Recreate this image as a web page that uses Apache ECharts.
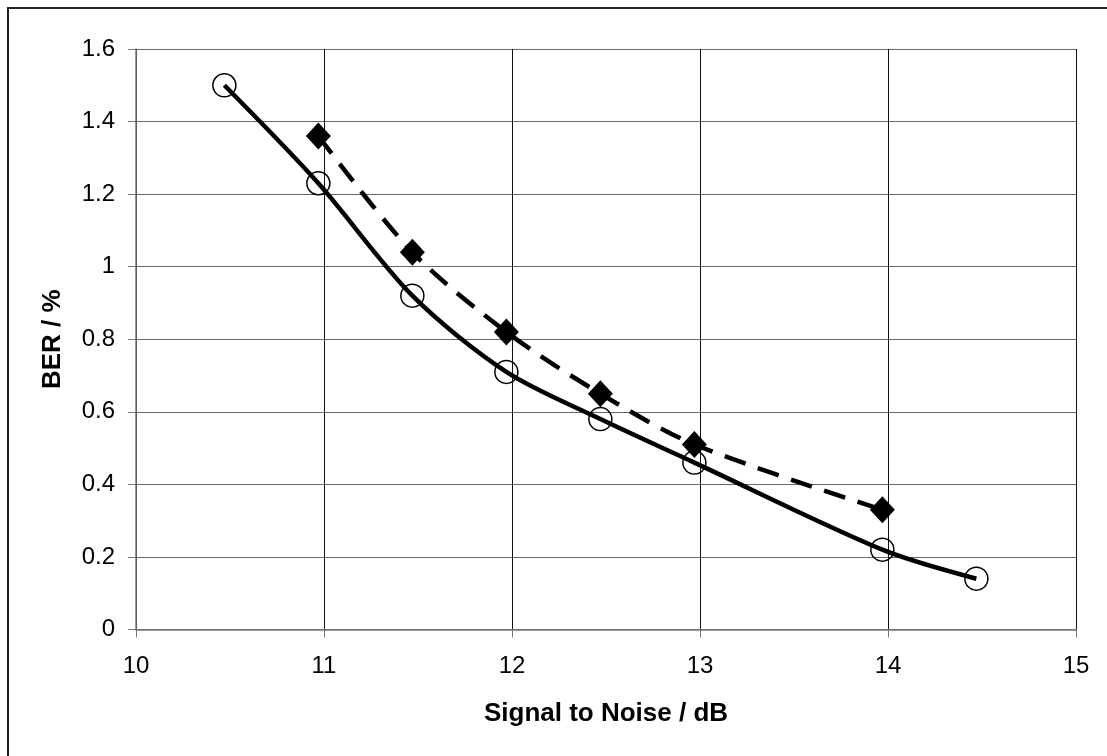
<!DOCTYPE html>
<html>
<head>
<meta charset="utf-8">
<script src="https://cdn.jsdelivr.net/npm/echarts@6/dist/echarts.min.js"></script>
<style>
  html, body { margin: 0; padding: 0; background: #fff; }
  #chart { width: 1107px; height: 756px; }
</style>
</head>
<body>
<div id="chart"></div>
<script>
// x positions (dB), markers sit slightly left of the gridlines
const snrCircle = [10.47, 10.97, 11.47, 11.97, 12.47, 12.97, 13.97, 14.47];
const berCircle = [1.5, 1.23, 0.92, 0.71, 0.58, 0.46, 0.22, 0.14];
const snrDiamond = [10.97, 11.47, 11.97, 12.47, 12.97, 13.97];
const berDiamond = [1.36, 1.04, 0.82, 0.65, 0.51, 0.33];
const xTicks = [10, 11, 12, 13, 14, 15];
const yTicks = [0, 0.2, 0.4, 0.6, 0.8, 1, 1.2, 1.4, 1.6];

const zip = (xs, ys) => xs.map((x, i) => [x, ys[i]]);

const labelFont = {
  fontFamily: 'Liberation Sans, Arial, sans-serif',
  fontSize: 24,
  color: '#000',
};

const myChart = echarts.init(document.getElementById('chart'));
myChart.setOption({
  animation: false,
  backgroundColor: '#fff',
  grid: { left: 136, top: 49, right: 31, bottom: 126.5 },
  graphic: [
    { // outer border, only top and left show in the picture
      type: 'rect',
      shape: { x: 8, y: 8, width: 1120, height: 780 },
      style: { fill: 'none', stroke: '#222', lineWidth: 2 },
      silent: true,
    },
  ],
  xAxis: {
    type: 'value',
    min: xTicks[0],
    max: xTicks[xTicks.length - 1],
    interval: 1,
    name: 'Signal to Noise / dB',
    nameLocation: 'middle',
    nameGap: 71,
    nameTextStyle: { ...labelFont, fontSize: 26, fontWeight: 'bold' },
    axisLine: { show: true, lineStyle: { color: '#777', width: 1.5 } },
    axisTick: { show: true, length: 8, lineStyle: { color: '#777' } },
    axisLabel: { ...labelFont, margin: 25 },
    splitLine: { show: true, lineStyle: { color: '#111', width: 1 } },
  },
  yAxis: {
    type: 'value',
    min: yTicks[0],
    max: yTicks[yTicks.length - 1],
    interval: 0.2,
    name: 'BER / %',
    nameLocation: 'middle',
    nameGap: 70,
    nameRotate: 90,
    nameTextStyle: { ...labelFont, fontSize: 26, fontWeight: 'bold' },
    axisLine: { show: true, lineStyle: { color: '#777', width: 1.5 } },
    axisTick: { show: true, length: 8, lineStyle: { color: '#777' } },
    axisLabel: { ...labelFont, margin: 21, formatter: (v) => String(Math.round(v * 10) / 10) },
    splitLine: { show: true, lineStyle: { color: '#666', width: 1 } },
  },
  series: [
    {
      name: 'diamond',
      type: 'line',
      data: zip(snrDiamond, berDiamond),
      smooth: 0.3,
      symbol: 'diamond',
      symbolSize: [25, 27],
      itemStyle: { color: '#000' },
      lineStyle: { color: '#000', width: 4.5, type: [22, 13] },
      z: 3,
    },
    {
      name: 'circle',
      type: 'line',
      data: zip(snrCircle, berCircle),
      smooth: 0.3,
      symbol: 'circle',
      symbolSize: 23,
      itemStyle: { color: 'rgba(0,0,0,0)', borderColor: '#000', borderWidth: 1.5 },
      lineStyle: { color: '#000', width: 4.5 },
      z: 2,
    },
  ],
});
</script>
</body>
</html>
